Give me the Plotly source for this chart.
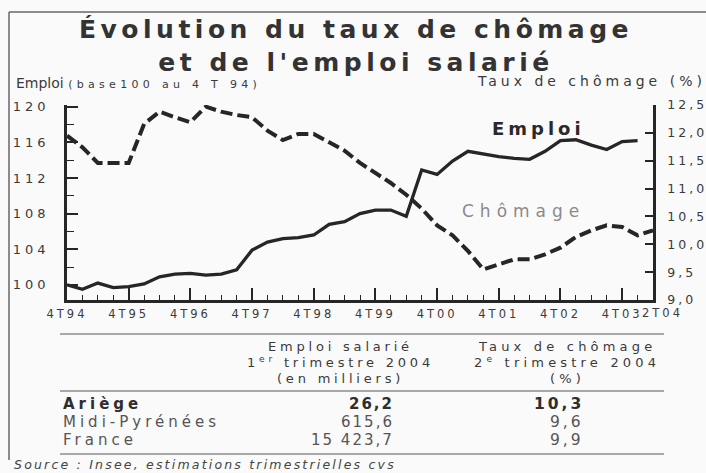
import plotly.graph_objects as go

W, H = 706, 473

quarters = ["4T94", "1T95", "2T95", "3T95", "4T95", "1T96", "2T96", "3T96", "4T96",
            "1T97", "2T97", "3T97", "4T97", "1T98", "2T98", "3T98", "4T98",
            "1T99", "2T99", "3T99", "4T99", "1T00", "2T00", "3T00", "4T00",
            "1T01", "2T01", "3T01", "4T01", "1T02", "2T02", "3T02", "4T02",
            "1T03", "2T03", "3T03", "4T03", "1T04", "2T04"]

# Emploi salarié, base 100 au 4T94 (4T94 .. 1T04)
emploi = [100.0, 99.5, 100.2, 99.7, 99.8, 100.1, 100.9, 101.2, 101.3,
          101.1, 101.2, 101.7, 103.9, 104.8, 105.2, 105.3, 105.6,
          106.8, 107.1, 108.0, 108.4, 108.4, 107.7, 112.9, 112.4,
          113.9, 115.0, 114.7, 114.4, 114.2, 114.1, 115.0, 116.2,
          116.3, 115.7, 115.2, 116.1, 116.2]

# Taux de chômage (%) (4T94 .. 2T04)
chomage = [11.95, 11.74, 11.46, 11.46, 11.46, 12.16, 12.38, 12.28, 12.19,
           12.47, 12.38, 12.32, 12.28, 12.04, 11.87, 11.98, 11.98,
           11.83, 11.68, 11.46, 11.28, 11.10, 10.89, 10.64, 10.34,
           10.16, 9.88, 9.55, 9.64, 9.73, 9.73, 9.82, 9.94,
           10.13, 10.25, 10.34, 10.31, 10.16, 10.25]

x_tick_labels = ["4T94", "4T95", "4T96", "4T97", "4T98", "4T99", "4T00", "4T01", "4T02", "4T03", "2T04"]
left_ticks = [100, 104, 108, 112, 116, 120]
right_ticks = [9.0, 9.5, 10.0, 10.5, 11.0, 11.5, 12.0, 12.5]

table_regions = ["Ariège", "Midi-Pyrénées", "France"]
table_emploi = ["26,2", "615,6", "15 423,7"]
table_chomage = ["10,3", "9,6", "9,9"]

FONT = "DejaVu Sans"
TXT = "#3a3a3a"
INK = "#262626"


def px(x):
    return x / W


def py(y):
    return 1 - y / H


def sp(text, ls):
    return f"<span style='letter-spacing:{ls}px'>{text}</span>"


x_idx = list(range(len(quarters)))
tickvals_x = [quarters.index(q) for q in x_tick_labels]

fig = go.Figure()
fig.add_trace(go.Scatter(x=x_idx[:len(emploi)], y=emploi, mode="lines",
                         line=dict(color=INK, width=3.3), name="Emploi", yaxis="y"))
fig.add_trace(go.Scatter(x=x_idx[:len(chomage)], y=chomage, mode="lines",
                         line=dict(color=INK, width=4, dash="12px,5px"),
                         name="Chômage", yaxis="y2"))

x0, x1 = 67, 653
y_top, y_bot = 105, 300

fig.update_layout(
    width=W, height=H,
    margin=dict(l=0, r=0, t=0, b=0, autoexpand=False),
    paper_bgcolor="#fafafa", plot_bgcolor="rgba(0,0,0,0)",
    showlegend=False,
    font=dict(family=FONT, color=TXT),
    xaxis=dict(domain=[px(x0), px(x1)], range=[0, len(quarters) - 1],
               automargin=False, tickangle=0,
               tickmode="array", tickvals=tickvals_x[:-1],
               ticktext=[sp(t, 3) for t in x_tick_labels[:-1]],
               ticks="inside", ticklen=12, tickwidth=1.5, tickcolor=INK,
               showline=True, linecolor=INK, linewidth=2.5,
               showgrid=False, zeroline=False,
               tickfont=dict(size=11.5, color=TXT), ticklabelstandoff=1,
               minor=dict(dtick=1, tick0=0, ticks="inside", ticklen=5,
                          tickwidth=1.2, tickcolor=INK, showgrid=False)),
    yaxis=dict(domain=[py(y_bot), py(y_top)], range=[98.3, 120.2],
               automargin=False,
               tickmode="array", tickvals=left_ticks,
               ticktext=[sp(str(v), 4) for v in left_ticks],
               ticks="inside", ticklen=11, tickwidth=1.5, tickcolor=INK,
               showline=True, linecolor=INK, linewidth=2.5,
               showgrid=False, zeroline=False,
               tickfont=dict(size=13, color=TXT), ticklabelstandoff=12,
               minor=dict(dtick=2, tick0=100, ticks="inside", ticklen=7,
                          tickwidth=1.3, tickcolor=INK, showgrid=False)),
    yaxis2=dict(overlaying="y", side="right", anchor="x", range=[9.0, 12.5],
                automargin=False,
                tickmode="array", tickvals=right_ticks,
                ticktext=[sp(f"{v:.1f}".replace(".", ","), 3) for v in right_ticks],
                ticks="inside", ticklen=8, tickwidth=1.5, tickcolor=INK,
                showline=True, linecolor=INK, linewidth=2.5,
                showgrid=False, zeroline=False,
                tickfont=dict(size=12.5, color=TXT), ticklabelstandoff=9),
)

ann = []
# last quarter label sits just past the right axis
ann.append(dict(x=tickvals_x[-1], y=0, xref="x", yref="paper",
                yshift=py(y_bot) * H - 13, xshift=9,
                text=sp(x_tick_labels[-1], 3), showarrow=False,
                font=dict(size=11.5, color=TXT), xanchor="center", yanchor="middle"))
# Title (two lines in one block)
ann.append(dict(x=px(356), y=py(46), xref="paper", yref="paper",
                text="<b>" + sp("Évolution du taux de chômage", 4.5) + "<br>"
                     + sp("et de l'emploi salarié", 4.5) + "</b>",
                showarrow=False, align="center",
                font=dict(size=25, color="#333"), xanchor="center", yanchor="middle"))
# axis titles
ann.append(dict(x=px(14), y=py(83), xref="paper", yref="paper",
                text="Emploi " + "<span style='font-size:11px;letter-spacing:4.3px'>(base100 au 4 T 94)</span>",
                showarrow=False, align="left", font=dict(size=14, color=TXT),
                xanchor="left", yanchor="middle"))
ann.append(dict(x=px(708), y=py(81), xref="paper", yref="paper",
                text=sp("Taux de chômage (%)", 4), showarrow=False,
                font=dict(size=14, color=TXT), xanchor="right", yanchor="middle"))
# series labels
ann.append(dict(x=30.6, y=117.6, xref="x", yref="y", text="<b>" + sp("Emploi", 4) + "</b>",
                showarrow=False, font=dict(size=18, color="#2a2a2a"),
                xanchor="center", yanchor="middle"))
ann.append(dict(x=29.6, y=108.3, xref="x", yref="y", text=sp("Chômage", 6),
                showarrow=False, font=dict(size=17, color="#8a8a8a"),
                xanchor="center", yanchor="middle"))

# Table headers
head1 = ["Emploi salarié", "1<sup>er</sup> trimestre 2004", "(en milliers)"]
head2 = ["Taux de chômage", "2<sup>e</sup> trimestre 2004", "(%)"]
for i, (a, b) in enumerate(zip(head1, head2)):
    yy = 346 + i * 16
    ann.append(dict(x=px(340), y=py(yy), xref="paper", yref="paper", text=sp(a, 3.8),
                    showarrow=False, font=dict(size=13, color=TXT),
                    xanchor="center", yanchor="middle"))
    ann.append(dict(x=px(567), y=py(yy), xref="paper", yref="paper", text=sp(b, 4.2),
                    showarrow=False, font=dict(size=13, color=TXT),
                    xanchor="center", yanchor="middle"))

for i, (r, e, c) in enumerate(zip(table_regions, table_emploi, table_chomage)):
    yy = 404 + i * 18
    bold = i == 0
    col = "#2e2e2e" if bold else "#555"

    def wrap(s, ls):
        t = sp(s, ls)
        return f"<b>{t}</b>" if bold else t

    ann.append(dict(x=px(61), y=py(yy), xref="paper", yref="paper", text=wrap(r, 4),
                    showarrow=False, font=dict(size=15, color=col),
                    xanchor="left", yanchor="middle"))
    ann.append(dict(x=px(396), y=py(yy), xref="paper", yref="paper", text=wrap(e, 2),
                    showarrow=False, font=dict(size=15, color=col),
                    xanchor="right", yanchor="middle"))
    ann.append(dict(x=px(586), y=py(yy), xref="paper", yref="paper", text=wrap(c, 3),
                    showarrow=False, font=dict(size=15.5, color=col),
                    xanchor="right", yanchor="middle"))

ann.append(dict(x=px(12), y=py(464), xref="paper", yref="paper",
                text="<i>" + sp("Source : Insee, estimations trimestrielles cvs", 2.2) + "</i>",
                showarrow=False, font=dict(size=12.5, color="#444"),
                xanchor="left", yanchor="middle"))

shapes = []
for yy in (334, 391, 454):
    shapes.append(dict(type="line", xref="paper", yref="paper",
                       x0=px(60), x1=px(664), y0=py(yy), y1=py(yy),
                       line=dict(color="#8c8c8c", width=1.5)))
# frame
shapes.append(dict(type="line", xref="paper", yref="paper",
                   x0=px(9), x1=1, y0=py(12), y1=py(12),
                   line=dict(color="#666", width=1.5)))
shapes.append(dict(type="line", xref="paper", yref="paper",
                   x0=px(9), x1=px(9), y0=py(12), y1=py(460),
                   line=dict(color="#666", width=1.5)))

fig.update_layout(annotations=ann, shapes=shapes)
fig.write_html("out.html", config={"displayModeBar": False},
               post_script="document.body.style.margin='0';document.body.style.overflow='hidden';")
